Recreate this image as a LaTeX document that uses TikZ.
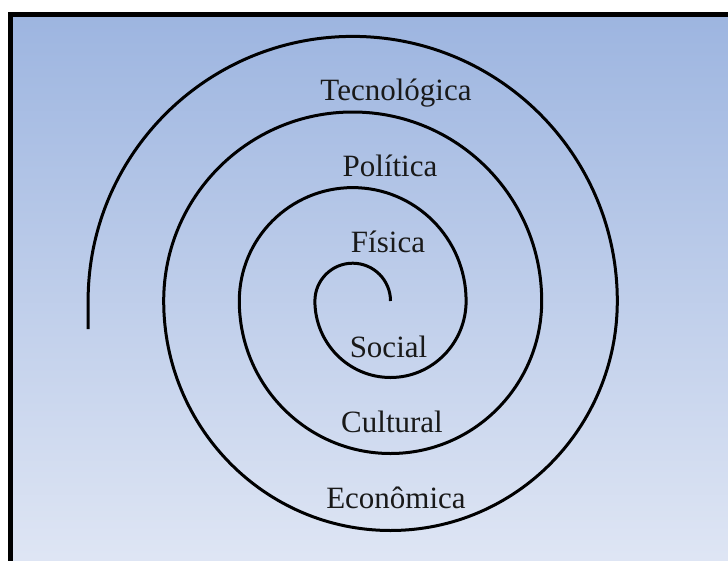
\documentclass[tikz,border=0pt]{standalone}
\usepackage{fontspec}
\setmainfont{Liberation Serif}
\definecolor{bgtop}{RGB}{157,181,224}
\definecolor{bgbot}{RGB}{226,232,245}
\tikzset{
  spiral/.style={line width=3pt, black},
  lbl/.style={anchor=base, inner sep=0pt, font=\fontsize{31}{31}\selectfont, text=black!90}
}
\begin{document}
\begin{tikzpicture}[x=1pt,y=-1pt]
\useasboundingbox (0,0) rectangle (728,560);
\clip (0,0) rectangle (728,560);
\fill[white] (0,0) rectangle (728,560);
\shade[top color=bgtop, bottom color=bgbot] (10.5,14.5) rectangle (760,590);
\draw[line width=5pt] (10.5,14.5) rectangle (760,590);
% spiral made of half circles, alternating centres A=(352.7,301) and B=(390.5,301)
\draw[spiral] (390.5,301)
  arc[start angle=0, end angle=-180, radius=37.8]
  arc[start angle=180, end angle=0, x radius=75.6, y radius=76.5]
  arc[start angle=0, end angle=-180, radius=113.4]
  arc[start angle=180, end angle=0, x radius=151.2, y radius=152.5]
  arc[start angle=0, end angle=-180, radius=189]
  arc[start angle=180, end angle=0, x radius=226.8, y radius=229.5]
  arc[start angle=0, end angle=-180, radius=264.6]
  -- ++(0,28) coordinate (tail);
\node[lbl] (tec) at (396,100) {Tecnológica};
\node[lbl] (pol) at (390,176) {Política};
\node[lbl] (fis) at (388,252) {Física};
\node[lbl] (soc) at (388.5,357) {Social};
\node[lbl] (cul) at (392,432) {Cultural};
\node[lbl] (eco) at (396,508) {Econômica};
\end{tikzpicture}
\end{document}
